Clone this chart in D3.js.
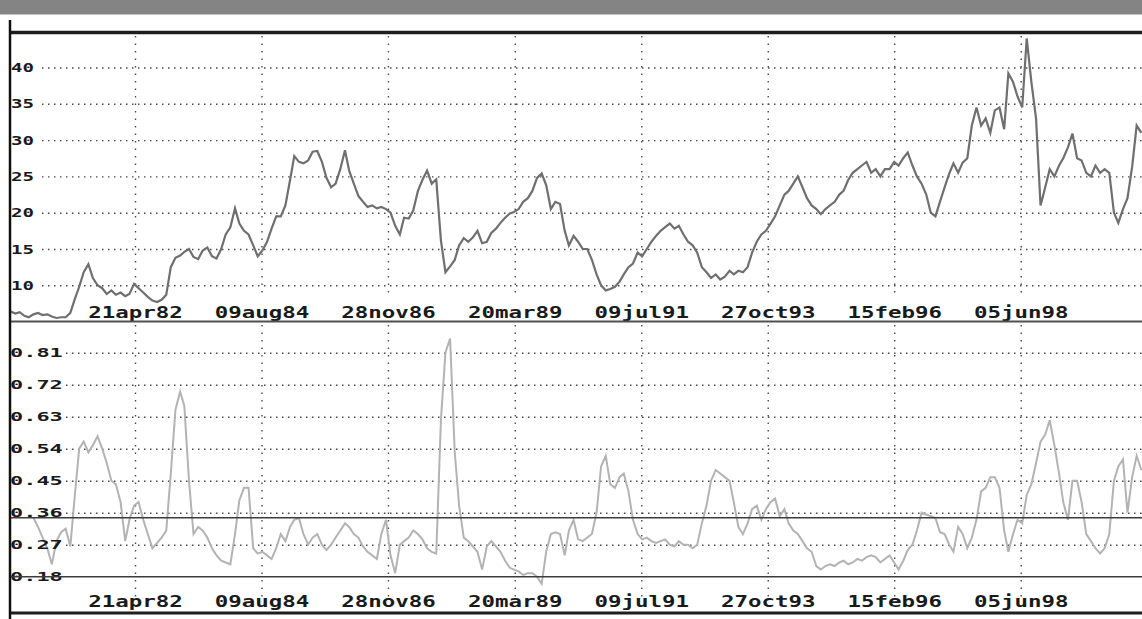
<!DOCTYPE html>
<html><head><meta charset="utf-8">
<script src="https://cdn.jsdelivr.net/npm/d3@7"></script>
<style>
html,body{margin:0;padding:0;background:#fff;}
svg{display:block;}
</style></head>
<body>
<svg id="chart" width="1142" height="619"></svg>
<script>
// ---- data (monthly, starting Jan 1980) ----
const startYear = 1980;
const priceValues = [
6.4,6.1,6.3,5.8,5.6,6.0,6.2,5.9,6.0,5.7,5.5,5.6,
5.6,6.2,8.0,9.8,11.8,12.9,11.0,10.0,9.6,8.8,9.3,8.7,
9.0,8.5,8.8,10.2,9.6,9.0,8.4,7.9,7.7,8.0,8.7,12.5,
13.8,14.1,14.6,15.0,13.9,13.6,14.8,15.2,14.0,13.7,15.0,17.0,
18.0,20.6,18.5,17.5,17.0,15.5,14.0,14.8,16.0,17.8,19.5,19.5,
21.0,24.5,27.8,27.0,26.8,27.2,28.4,28.5,27.0,24.8,23.5,24.0,
26.0,28.6,25.8,24.0,22.3,21.5,20.8,21.0,20.6,20.8,20.5,20.0,
18.2,17.0,19.3,19.2,20.3,23.0,24.5,25.8,24.0,24.6,16.2,11.8,
12.6,13.5,15.5,16.5,16.0,16.6,17.5,15.8,16.0,17.2,17.8,18.6,
19.3,19.9,20.1,20.5,21.5,22.0,23.0,24.8,25.4,23.8,20.5,21.5,
21.2,17.5,15.5,16.8,16.0,15.0,15.0,13.5,11.5,10.0,9.3,9.5,
9.8,10.5,11.5,12.5,13.0,14.5,14.0,15.0,16.0,16.8,17.5,18.0,
18.5,17.8,18.2,17.0,16.0,15.5,14.5,12.5,11.8,11.0,11.5,10.8,
11.2,12.0,11.5,12.0,11.8,12.5,14.5,16.0,17.0,17.5,18.5,19.5,
21.0,22.5,23.0,24.0,25.0,23.5,22.0,21.0,20.5,19.8,20.5,21.0,
21.5,22.5,23.0,24.5,25.5,26.0,26.5,27.0,25.5,26.0,25.0,26.0,
26.0,27.0,26.5,27.5,28.3,26.5,25.0,24.0,22.5,20.0,19.5,21.5,
23.5,25.4,26.8,25.5,26.9,27.5,32.0,34.5,32.0,33.0,31.0,34.1,
34.5,31.5,39.2,38.0,36.0,34.5,44.0,38.0,33.0,21.0,23.5,26.0,
25.0,26.5,27.5,29.0,30.9,27.5,27.2,25.5,25.0,26.5,25.5,26.0,
25.5,20.0,18.6,20.5,22.0,26.3,32.0,31.0
];
const volStartMonth = 5;
const volValues = [
0.345,0.32,0.29,0.26,0.215,0.28,0.305,
0.315,0.265,0.40,0.54,0.56,0.53,0.55,0.575,0.54,0.50,0.45,0.44,
0.39,0.28,0.34,0.38,0.39,0.34,0.30,0.26,0.275,0.29,0.31,0.47,
0.65,0.70,0.66,0.45,0.30,0.32,0.31,0.29,0.26,0.24,0.225,0.22,
0.215,0.30,0.395,0.43,0.43,0.26,0.245,0.25,0.24,0.23,0.26,0.30,
0.28,0.32,0.34,0.345,0.30,0.27,0.29,0.30,0.27,0.255,0.27,0.29,
0.31,0.33,0.32,0.30,0.29,0.265,0.25,0.24,0.23,0.30,0.34,0.24,
0.19,0.27,0.28,0.29,0.31,0.30,0.285,0.26,0.25,0.245,0.62,0.81,
0.85,0.53,0.38,0.29,0.28,0.265,0.25,0.20,0.265,0.28,0.265,0.25,
0.225,0.205,0.20,0.195,0.185,0.19,0.19,0.18,0.16,0.25,0.30,0.305,
0.30,0.24,0.31,0.34,0.285,0.28,0.29,0.30,0.36,0.49,0.52,0.44,
0.43,0.46,0.47,0.42,0.34,0.30,0.285,0.29,0.28,0.275,0.28,0.285,
0.27,0.265,0.28,0.27,0.27,0.26,0.27,0.33,0.38,0.45,0.48,0.47,
0.46,0.45,0.39,0.32,0.30,0.33,0.37,0.38,0.34,0.37,0.39,0.40,
0.35,0.37,0.33,0.31,0.30,0.28,0.26,0.25,0.21,0.20,0.21,0.215,
0.21,0.22,0.225,0.215,0.22,0.23,0.225,0.235,0.24,0.235,0.22,0.23,
0.24,0.22,0.20,0.225,0.255,0.27,0.31,0.36,0.355,0.35,0.345,0.305,
0.30,0.27,0.25,0.32,0.30,0.26,0.29,0.34,0.42,0.43,0.46,0.46,
0.43,0.31,0.25,0.30,0.34,0.33,0.41,0.44,0.50,0.56,0.58,0.62,
0.55,0.47,0.39,0.34,0.45,0.45,0.39,0.30,0.28,0.26,0.245,0.26,
0.30,0.45,0.49,0.51,0.36,0.46,0.52,0.48
];
const topTicks = [10,15,20,25,30,35,40];
const volTicks = [0.18,0.27,0.36,0.45,0.54,0.63,0.72,0.81];
const volRefLines = [0.346,0.18];
const dateTicks = ["1982-04-21","1984-08-09","1986-11-28","1989-03-20","1991-07-09","1993-10-27","1996-02-15","1998-06-05"];

// ---- build ----
const W = 1142, H = 619;
const svg = d3.select("#chart");
const parse = d3.timeParse("%Y-%m-%d");
const tickDates = dateTicks.map(parse);
const monthDate = i => new Date(startYear, i, 15);

const x = d3.scaleTime().domain([tickDates[0], tickDates[tickDates.length-1]]).range([135, 1020.7]);
const yTop = d3.scaleLinear().domain([10,40]).range([285.3, 67.5]);
const yVol = d3.scaleLinear().domain([0.18,0.81]).range([576.7, 352.7]);

const fmt = d => d3.timeFormat("%d%b%y")(d).toLowerCase();
const FONT = "'DejaVu Sans Mono', monospace";

// header band
svg.append("rect").attr("x",0).attr("y",0).attr("width",W).attr("height",14).attr("fill","#848484");
svg.append("line").attr("x1",0).attr("x2",W).attr("y1",14.5).attr("y2",14.5).attr("stroke","#c4c4c4").attr("stroke-width",1);

// grids
function styleGrid(g, dash){
  g.select(".domain").remove();
  g.selectAll(".tick line").attr("stroke","#4a4a4a").attr("stroke-width",1.4).attr("stroke-dasharray",dash);
  g.selectAll(".tick text").remove();
}
svg.append("g").attr("transform","translate(42,0)")
  .call(d3.axisRight(yTop).tickValues(topTicks).tickSize(W-42).tickFormat(""))
  .call(g=>styleGrid(g,"1.5,4.5"));
svg.append("g").attr("transform","translate(66,0)")
  .call(d3.axisRight(yVol).tickValues(volTicks.filter(v=>v!==0.18)).tickSize(W-66).tickFormat(""))
  .call(g=>styleGrid(g,"1.5,4.5"));
svg.append("g").attr("transform","translate(0,36)")
  .call(d3.axisBottom(x).tickValues(tickDates).tickSize(262).tickFormat(""))
  .call(g=>styleGrid(g,"1.5,6"));
svg.append("g").attr("transform","translate(0,325)")
  .call(d3.axisBottom(x).tickValues(tickDates).tickSize(272).tickFormat(""))
  .call(g=>styleGrid(g,"1.5,6"));

// series
const topLine = d3.line().x((d,i)=>x(monthDate(i))).y(d=>yTop(d));
svg.append("path").datum(priceValues).attr("d",topLine)
  .attr("fill","none").attr("stroke","#6f6f6f").attr("stroke-width",2.2);

const volLine = d3.line().x((d,i)=>x(monthDate(i+volStartMonth))).y(d=>yVol(d));
svg.append("path").datum(volValues).attr("d",volLine)
  .attr("fill","none").attr("stroke","#b3b3b3").attr("stroke-width",2);

// y labels
function styleLabels(g, perChar, size){
  g.select(".domain").remove();
  g.selectAll(".tick line").remove();
  g.selectAll(".tick text")
    .attr("font-family",FONT).attr("font-weight","bold").attr("font-size",size)
    .attr("fill","#1a1a1a")
    .attr("textLength",function(){return this.textContent.length*perChar;})
    .attr("lengthAdjust","spacingAndGlyphs");
}
svg.append("g").attr("transform","translate(11,0)")
  .call(d3.axisRight(yTop).tickValues(topTicks).tickSize(0).tickPadding(0).tickFormat(d=>String(d)))
  .call(g=>styleLabels(g,11.5,13));
svg.append("g").attr("transform","translate(10,0)")
  .call(d3.axisRight(yVol).tickValues(volTicks).tickSize(0).tickPadding(0).tickFormat(d=>d3.format(".2f")(d)))
  .call(g=>styleLabels(g,13.2,13));

// date labels
function styleDates(g){
  g.select(".domain").remove();
  g.selectAll(".tick line").remove();
  g.selectAll(".tick text")
    .attr("y",0).attr("dy",0)
    .attr("font-family",FONT).attr("font-weight","bold").attr("font-size",16)
    .attr("fill","#1a1a1a")
    .attr("textLength",function(){return this.textContent.length*13.5;})
    .attr("lengthAdjust","spacingAndGlyphs");
}
svg.append("g").attr("transform","translate(0,318)")
  .call(d3.axisBottom(x).tickValues(tickDates).tickSize(0).tickFormat(fmt))
  .call(styleDates);
svg.append("g").attr("transform","translate(0,607)")
  .call(d3.axisBottom(x).tickValues(tickDates).tickSize(0).tickFormat(fmt))
  .call(styleDates);

// reference lines in lower panel
svg.selectAll(".ref").data(volRefLines).join("line").attr("class","ref")
  .attr("x1",9).attr("x2",W).attr("y1",d=>yVol(d)).attr("y2",d=>yVol(d))
  .attr("stroke","#3c3c3c").attr("stroke-width",1.5);

// frame lines
svg.append("line").attr("x1",9).attr("x2",W).attr("y1",32.5).attr("y2",32.5).attr("stroke","#1e1e1e").attr("stroke-width",3.5);
svg.append("line").attr("x1",9).attr("x2",W).attr("y1",321.5).attr("y2",321.5).attr("stroke","#505050").attr("stroke-width",2);
svg.append("line").attr("x1",9).attr("x2",W).attr("y1",613).attr("y2",613).attr("stroke","#1e1e1e").attr("stroke-width",3);
svg.append("line").attr("x1",10).attr("x2",10).attr("y1",20).attr("y2",H).attr("stroke","#111").attr("stroke-width",2.5);
</script>
</body></html>
